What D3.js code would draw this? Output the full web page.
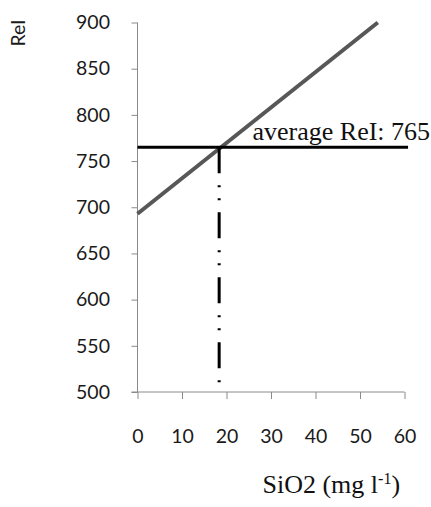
<!DOCTYPE html>
<html>
<head>
<meta charset="utf-8">
<script src="https://cdn.jsdelivr.net/npm/d3@7"></script>
<style>
  html, body { margin: 0; padding: 0; background: #fff; }
  svg { display: block; }
</style>
</head>
<body>
<svg id="chart" width="431" height="507"></svg>
<script>
// ---- data ----
const xTicks = [0, 10, 20, 30, 40, 50, 60];
const yTicks = [500, 550, 600, 650, 700, 750, 800, 850, 900];
const regX = [0, 54];
const regY = [693, 900];
const averageRel = 765;
const averageX = [0, 60.8];
const crossX = 18.35;
const xLabel = "SiO2 (mg l";
const xLabelSup = "-1";
const yLabel = "ReI";
const avgLabel = "average ReI: 765";

// ---- chart ----
const svg = d3.select("#chart");
const x = d3.scaleLinear().domain([0, 60]).range([137.5, 404.5]);
const y = d3.scaleLinear().domain([500, 900]).range([392, 22.5]);
const sans = "Lato, 'Open Sans', sans-serif";
const serif = "'Liberation Serif', 'Times New Roman', serif";

// y axis
const gy = svg.append("g").attr("transform", `translate(${x(0)},0)`)
  .call(d3.axisLeft(y).tickValues(yTicks).tickSize(6).tickPadding(21.5).tickSizeOuter(0));
gy.select(".domain").attr("stroke", "#8a8a8a").attr("d", `M0,${y(900)}V${y(500)}`);
gy.selectAll(".tick line").attr("stroke", "#8a8a8a");
gy.selectAll(".tick text").attr("font-family", sans).attr("font-size", 19.5).attr("fill", "#1a1a1a");

// x axis
const gx = svg.append("g").attr("transform", `translate(0,${y(500)})`)
  .call(d3.axisBottom(x).tickValues(xTicks).tickSize(7).tickSizeOuter(0));
gx.select(".domain").attr("stroke", "#8a8a8a").attr("d", `M${x(0) - 6},0H${x(60)}`);
gx.selectAll(".tick line").attr("stroke", "#8a8a8a");
gx.selectAll(".tick text").attr("font-family", sans).attr("font-size", 19.5).attr("fill", "#1a1a1a")
  .attr("y", 0).attr("dy", 0).attr("transform", "translate(0,50.5)");

// regression line
svg.append("line")
  .attr("x1", x(regX[0])).attr("y1", y(regY[0]))
  .attr("x2", x(regX[1])).attr("y2", y(regY[1]))
  .attr("stroke", "#575757").attr("stroke-width", 4);

// average horizontal line
svg.append("line")
  .attr("x1", x(averageX[0])).attr("y1", y(averageRel))
  .attr("x2", x(averageX[1])).attr("y2", y(averageRel))
  .attr("stroke", "#000").attr("stroke-width", 3);

// vertical dash-dot line
svg.append("line")
  .attr("x1", x(crossX)).attr("y1", y(averageRel))
  .attr("x2", x(crossX)).attr("y2", y(500))
  .attr("stroke", "#000").attr("stroke-width", 3)
  .attr("stroke-dasharray", "26,12,2,11,2,12");

// average label
svg.append("text")
  .attr("x", 252.5).attr("y", 140)
  .attr("font-family", serif).attr("font-size", 26).attr("fill", "#111")
  .text(avgLabel);

// x label
const xl = svg.append("text")
  .attr("x", 262.5).attr("y", 493)
  .attr("font-family", serif).attr("font-size", 26).attr("fill", "#111");
xl.append("tspan").text(xLabel);
xl.append("tspan").attr("font-size", 16).attr("dy", -9).text(xLabelSup);
xl.append("tspan").attr("dy", 9).text(")");

// y label
svg.append("text")
  .attr("transform", "translate(25,33) rotate(-90)")
  .attr("text-anchor", "middle")
  .attr("font-family", sans).attr("font-size", 19.5).attr("fill", "#1a1a1a")
  .text(yLabel);
</script>
</body>
</html>
